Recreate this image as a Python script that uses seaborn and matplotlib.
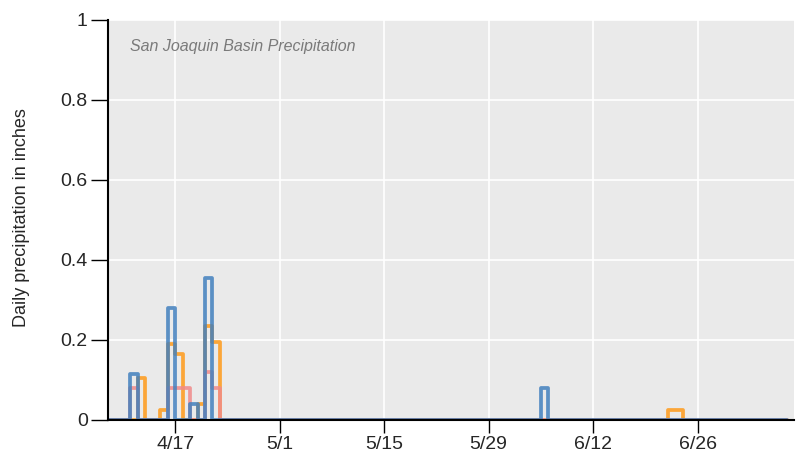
import matplotlib
matplotlib.use("Agg")
import matplotlib.pyplot as plt
import numpy as np
import pandas as pd
import seaborn as sns

# Daily precipitation (inches) per station series; days not listed are dry (0)
year = 2019
first_day = "04-08"
last_day = "07-08"

blue_dates = ["04-11", "04-16", "04-19", "04-21", "06-05"]
blue_vals = [0.115, 0.28, 0.04, 0.355, 0.08]

orange_dates = ["04-12", "04-15", "04-16", "04-17", "04-20", "04-21", "04-22", "06-22", "06-23"]
orange_vals = [0.105, 0.025, 0.19, 0.165, 0.04, 0.235, 0.195, 0.025, 0.025]

pink_dates = ["04-11", "04-16", "04-17", "04-18", "04-21", "04-22"]
pink_vals = [0.08, 0.08, 0.08, 0.08, 0.12, 0.08]

x_tick_labels = ["4/17", "5/1", "5/15", "5/29", "6/12", "6/26"]
y_ticks = [0, 0.2, 0.4, 0.6, 0.8, 1]
y_tick_labels = ["0", "0.2", "0.4", "0.6", "0.8", "1"]

series = {
    "orange": (orange_dates, orange_vals),
    "pink": (pink_dates, pink_vals),
    "blue": (blue_dates, blue_vals),
}
palette = {"orange": "#FF9A1A", "pink": "#F08A8A", "blue": "#4280BE"}

days = pd.date_range(f"{year}-{first_day}", f"{year}-{last_day}", freq="D")
frames = []
for name, (dates, vals) in series.items():
    s = pd.Series(0.0, index=days)
    for d, v in zip(dates, vals):
        s[pd.Timestamp(f"{year}-{d}")] = v
    frames.append(pd.DataFrame({"date": days, "precip": s.values, "station": name}))
df = pd.concat(frames, ignore_index=True)

sns.set_style("darkgrid", {
    "axes.facecolor": "#EAEAEA",
    "grid.color": "white",
    "axes.edgecolor": "black",
})
plt.rcParams["font.family"] = ["Liberation Sans Narrow", "Liberation Sans", "DejaVu Sans"]

fig = plt.figure(figsize=(7.97, 4.62), dpi=100)
ax = fig.add_axes([108 / 797, 42 / 462, 686 / 797, 400 / 462])

sns.lineplot(
    data=df, x="date", y="precip", hue="station", palette=palette,
    hue_order=["orange", "pink", "blue"], drawstyle="steps-post",
    linewidth=2.7, alpha=0.85, legend=False, ax=ax,
    solid_joinstyle="round", solid_capstyle="round",
)

ax.set_xlim(pd.Timestamp(f"{year}-{first_day}"),
            pd.Timestamp(f"{year}-{last_day}") + pd.Timedelta(hours=22))
ax.set_ylim(0, 1)

tick_dates = [pd.Timestamp(f"{year}-" + "-".join(f"{int(p):02d}" for p in lbl.split("/")))
              for lbl in x_tick_labels]
ax.set_xticks(tick_dates)
ax.set_xticklabels(x_tick_labels)
ax.set_yticks(y_ticks)
ax.set_yticklabels(y_tick_labels)

ax.tick_params(axis="y", direction="out", length=12.5, width=1, color="black",
               pad=2, labelsize=14, left=True)
ax.tick_params(axis="x", direction="out", length=9.5, width=1, color="black",
               pad=2, labelsize=14, bottom=True)

for side in ["top", "right"]:
    ax.spines[side].set_visible(False)
for side in ["left", "bottom"]:
    ax.spines[side].set_visible(True)
    ax.spines[side].set_color("black")
    ax.spines[side].set_linewidth(1.5)
    ax.spines[side].set_zorder(5)

ax.grid(True, color="white", linewidth=1.2)
ax.set_xlabel("")
ax.set_ylabel("Daily precipitation in inches", fontsize=13,
              family=["Liberation Sans", "DejaVu Sans"])
ax.yaxis.set_label_coords(-(108 - 30) / 686, 0.505)

ax.text(0.032, 0.935, "San Joaquin Basin Precipitation", transform=ax.transAxes,
        fontsize=11.5, style="italic", color="#7A7A7A", va="center", ha="left")

fig.savefig("out.png", dpi=100)
